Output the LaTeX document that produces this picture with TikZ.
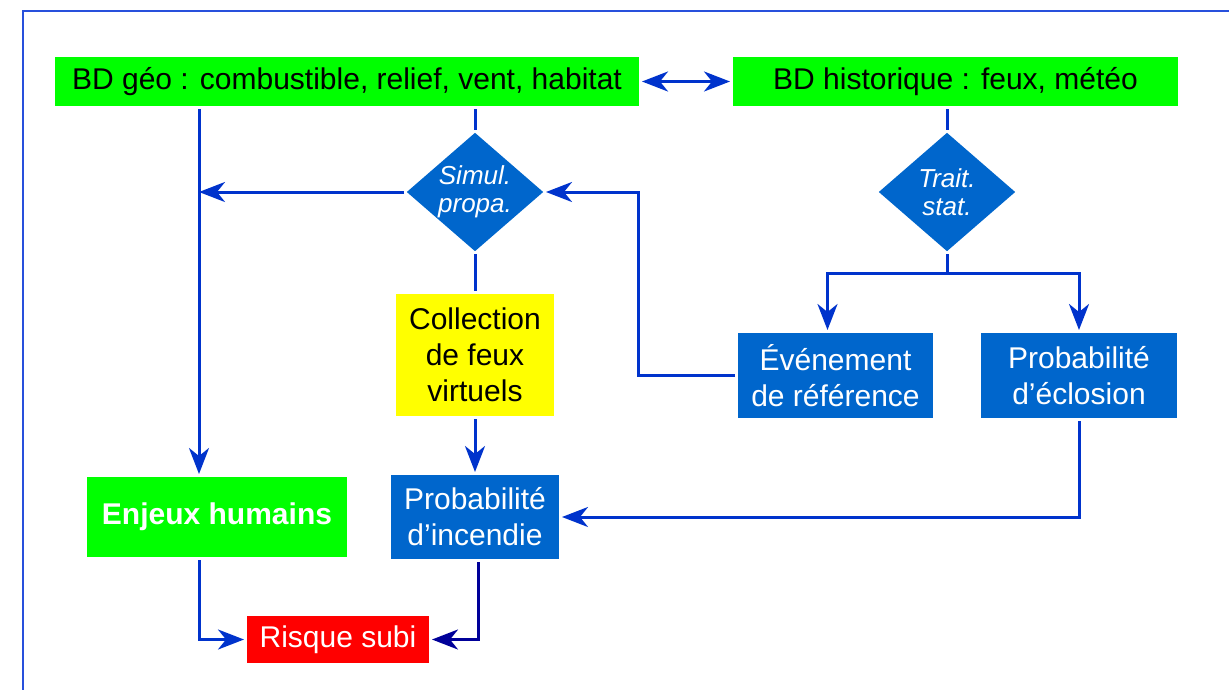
\documentclass[tikz,border=0pt]{standalone}
\usepackage{fontspec}
\setmainfont{Liberation Sans}
\usepackage{xcolor}
\usepackage{tikz}
\usetikzlibrary{shapes.geometric, arrows.meta, calc}

\definecolor{boxgreen}{RGB}{0,255,0}
\definecolor{boxblue}{RGB}{0,102,204}
\definecolor{boxyellow}{RGB}{255,255,0}
\definecolor{boxred}{RGB}{255,0,0}
\definecolor{linkblue}{RGB}{0,51,204}
\definecolor{linknavy}{RGB}{0,0,153}
\definecolor{framecol}{RGB}{40,80,220}

\begin{document}
\begin{tikzpicture}[
    x=1pt, y=-1pt,
    >={Stealth[length=26pt, width=20pt, inset=8pt]},
    block/.style={
        rectangle,
        inner sep=0pt,
        outer sep=3pt,
        align=center,
        font=\fontsize{30}{36}\selectfont
    },
    greenbox/.style={block, fill=boxgreen, text=black},
    bluebox/.style={block, fill=boxblue, text=white},
    decision/.style={
        diamond,
        fill=boxblue,
        inner sep=0pt,
        outer sep=2pt,
        minimum width=138pt,
        minimum height=120pt
    },
    dlabel/.style={
        text=white,
        align=center,
        font=\fontsize{26}{28}\selectfont\itshape
    },
    line/.style={
        draw=linkblue,
        line width=3pt,
        ->
    },
    link/.style={
        draw=linkblue,
        line width=3pt
    }
]

\useasboundingbox (0,0) rectangle (1229,689);
\clip (0,0) rectangle (1229,689);
\draw [framecol, line width=2pt] (23,11) rectangle (1260,720);

% Nodes
\node [greenbox, minimum width=584pt, minimum height=49pt] (geo) at (347,81.5) {BD géo : combustible, relief, vent, habitat};
\node [greenbox, minimum width=445pt, minimum height=49pt] (hist) at (955.5,81.5) {BD historique : feux, météo};
\node [decision] (simul) at (475,192) {};
\node [dlabel] (simultext) at (simul) {Simul.\\propa.};
\node [decision] (trait) at (947,192) {};
\node [dlabel] (traittext) at (trait) {Trait.\\stat.};
\node [block, fill=boxyellow, minimum width=158pt, minimum height=122pt] (collection) at (475,355) {Collection\\de feux\\virtuels};
\node [bluebox, minimum width=195pt, minimum height=85pt] (evenement) at (835.5,375.5) {Événement\\de référence};
\node [bluebox, minimum width=196pt, minimum height=85pt] (eclosion) at (1079,375.5) {Probabilité\\d’éclosion};
\node [bluebox, minimum width=168pt, minimum height=84pt] (incendie) at (475,517) {Probabilité\\d’incendie};
\node [greenbox, text=white, minimum width=260pt, minimum height=80pt, font=\fontsize{30}{36}\selectfont\bfseries] (enjeux) at (217,517) {Enjeux humains};
\node [block, fill=boxred, text=white, minimum width=182pt, minimum height=47pt] (risque) at (338,639.5) {Risque subi};

\coordinate (rail) at ([xshift=-18pt]enjeux.north);
\coordinate (split) at (947,273);

% Edges
\path [line, <->] (geo.east) -- (hist.west);
\path [link] (simul.north |- geo.south) -- (simul.north);
\path [link] (trait.north |- hist.south) -- (trait.north);
\path [line] (rail |- geo.south) -- (rail);
\path [line] (simul.west) -- (simul.west -| rail);
\path [link] (simul.south) -- (collection.north);
\path [line] (collection.south) -- (incendie.north);
\path [link] (trait.south) -- (split);
\path [line] (split) -| ([xshift=-8pt]evenement.north);
\path [line] (split) -| (eclosion.north);
\path [line] (evenement.west) -- ++(-97,0) |- (simul.east);
\path [line] (eclosion.south) |- (incendie.east);
\path [line] ([xshift=-18pt]enjeux.south) |- (risque.west);
\path [line, draw=linknavy] ([xshift=3pt]incendie.south) |- (risque.east);

\end{tikzpicture}
\end{document}
